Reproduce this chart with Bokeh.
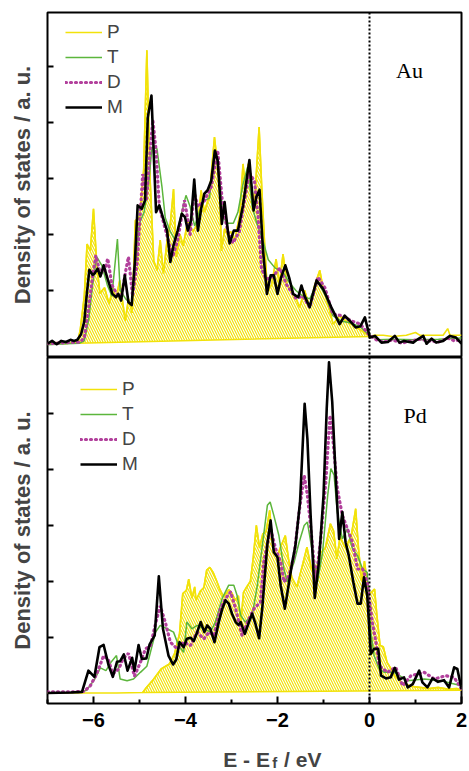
from bokeh.plotting import figure
from bokeh.layouts import column
from bokeh.models import (Range1d, FixedTicker, Span, Label, Legend, LegendItem,
                          CustomJSTickFormatter)
from bokeh.embed import file_html
from bokeh.resources import INLINE

# ---------------- data: Au panel ----------------
au_p_x = [-7.0, -6.8, -6.6, -6.45, -6.35, -6.29, -6.2, -6.14, -6.07, -6.0, -5.93, -5.86, -5.76, -5.66,
          -5.58, -5.51, -5.43, -5.31, -5.24, -5.16, -5.09, -5.0, -4.91, -4.84, -4.77, -4.69, -4.62,
          -4.55, -4.48, -4.40, -4.33, -4.26, -4.2, -4.12, -4.05, -3.95, -3.84, -3.73, -3.66, -3.59,
          -3.48, -3.37, -3.26, -3.22, -3.15, -3.08, -3.01, -2.93, -2.82, -2.75, -2.69, -2.64, -2.57,
          -2.50, -2.40, -2.34, -2.28, -2.22, -2.13, -2.03, -1.96, -1.88, -1.79, -1.70, -1.59, -1.52,
          -1.41, -1.30, -1.19, -1.08, -1.0, -0.9, -0.79, -0.65, -0.5, -0.35, -0.2, 0.0, 0.1, 0.3,
          0.5, 0.8, 1.0, 1.1, 1.4, 1.6, 1.7, 1.75, 2.0]
au_p_y = [0.05, 0.07, 0.05, 0.08, 0.06, 0.29, 0.9, 1.83, 1.71, 2.46, 1.48, 0.95, 1.05, 0.76,
          1.05, 0.85, 1.18, 0.46, 0.85, 0.6, 2.25, 2.31, 3.14, 5.29, 3.0, 1.53, 1.36,
          1.9, 1.3, 1.9, 2.2, 2.81, 1.6, 2.0, 1.8, 2.25, 2.05, 2.2, 2.79, 2.4,
          2.7, 3.74, 2.9, 1.71, 2.1, 2.0, 2.05, 1.9, 2.35, 3.26, 2.8, 3.26, 2.85,
          2.55, 3.92, 2.8, 1.83, 0.98, 1.1, 1.56, 1.1, 1.65, 1.1, 1.0, 0.85, 0.7,
          1.0, 0.7, 1.1, 1.36, 1.0, 0.75, 0.40, 0.55, 0.45, 0.38, 0.3, 0.18, 0.2, 0.2,
          0.18, 0.2, 0.25, 0.2, 0.2, 0.2, 0.32, 0.2, 0.2]

au_t_x = [-7.0, -6.6, -6.3, -6.2, -6.1, -6.02, -5.93, -5.82, -5.7, -5.6, -5.48, -5.42, -5.3, -5.17,
          -5.08, -5.0, -4.9, -4.79, -4.73, -4.62, -4.51, -4.44, -4.33, -4.22, -4.11, -3.99, -3.9,
          -3.8, -3.7, -3.6, -3.48, -3.37, -3.28, -3.18, -3.08, -2.96, -2.86, -2.75, -2.65, -2.55,
          -2.45, -2.32, -2.2, -2.05, -1.9, -1.75, -1.6, -1.45, -1.3, -1.12, -0.95, -0.8, -0.6,
          -0.4, -0.2, 0.0, 0.2, 0.5, 1.0, 1.5, 2.0]
au_t_y = [0.03, 0.05, 0.06, 0.1, 0.5, 1.1, 1.6, 1.45, 1.1, 0.9, 1.92, 1.0, 0.85, 0.75,
          1.5, 2.2, 2.4, 3.0, 3.56, 3.53, 2.84, 2.3, 2.05, 1.9, 2.3, 2.7, 2.5,
          2.15, 2.4, 2.6, 2.65, 3.5, 3.2, 2.3, 2.2, 2.2, 2.4, 2.9, 3.2, 2.5,
          2.2, 1.9, 1.55, 1.4, 1.35, 1.15, 1.0, 0.9, 0.85, 1.15, 0.9, 0.55, 0.45,
          0.42, 0.35, 0.2, 0.12, 0.13, 0.12, 0.13, 0.15]

au_d_x = [-7.0, -6.6, -6.3, -6.2, -6.12, -6.02, -5.95, -5.85, -5.76, -5.69, -5.6, -5.5, -5.4, -5.3,
          -5.24, -5.15, -5.05, -4.93, -4.85, -4.76, -4.71, -4.64, -4.57, -4.44, -4.28, -4.17, -4.02,
          -3.9, -3.81, -3.73, -3.59, -3.44, -3.30, -3.19, -3.08, -2.97, -2.83, -2.72, -2.61, -2.5,
          -2.42, -2.35, -2.25, -2.1, -1.95, -1.8, -1.6, -1.45, -1.3, -1.12, -0.97, -0.8, -0.6,
          -0.4, -0.2, 0.0, 0.15, 0.3, 0.5, 0.7, 0.9, 1.1, 1.3, 1.5, 1.7, 1.85, 2.0]
au_d_y = [0.05, 0.07, 0.08, 0.15, 0.6, 1.25, 1.62, 1.3, 1.35, 1.57, 1.1, 0.95, 0.85, 1.35,
          1.6, 0.9, 1.5, 3.08, 2.6, 3.6, 4.04, 3.5, 2.5, 2.1, 1.6, 1.9, 2.61,
          2.0, 2.75, 2.5, 2.6, 2.85, 3.5, 2.5, 2.05, 1.85, 2.05, 2.6, 3.1, 2.95,
          2.3, 1.4, 1.2, 1.25, 1.4, 1.1, 0.86, 0.9, 0.7, 1.24, 1.05, 0.58, 0.55,
          0.46, 0.4, 0.2, 0.12, 0.08, 0.12, 0.06, 0.1, 0.13, 0.1, 0.08, 0.15, 0.1, 0.12]

au_m_x = [-7.0, -6.9, -6.8, -6.7, -6.6, -6.5, -6.42, -6.35, -6.27, -6.2, -6.15, -6.09, -6.02, -5.98,
          -5.91, -5.85, -5.78, -5.69, -5.59, -5.51, -5.46, -5.40, -5.32, -5.24, -5.17, -5.10, -5.04,
          -4.95, -4.88, -4.82, -4.74, -4.64, -4.57, -4.47, -4.40, -4.33, -4.26, -4.17, -4.08, -4.01,
          -3.95, -3.88, -3.81, -3.73, -3.66, -3.59, -3.52, -3.44, -3.36, -3.30, -3.21, -3.15, -3.08,
          -3.04, -2.95, -2.86, -2.75, -2.68, -2.61, -2.52, -2.46, -2.39, -2.32, -2.23, -2.15, -2.08,
          -2.0, -1.92, -1.83, -1.74, -1.66, -1.55, -1.48, -1.41, -1.30, -1.23, -1.15, -1.01, -0.83,
          -0.65, -0.54, -0.43, -0.30, -0.20, -0.10, 0.01, 0.12, 0.26, 0.4, 0.55, 0.65, 0.75, 0.95,
          1.03, 1.17, 1.24, 1.35, 1.45, 1.6, 1.75, 1.88, 2.0]
au_m_y = [0.05, 0.1, 0.04, 0.1, 0.08, 0.12, 0.1, 0.12, 0.22, 0.45, 0.9, 1.37, 1.28, 1.30,
          1.39, 1.25, 1.45, 1.2, 0.94, 0.88, 0.94, 0.82, 1.27, 0.79, 0.74, 1.52, 2.52,
          2.46, 2.61, 4.09, 4.48, 2.40, 2.52, 2.25, 2.07, 1.51, 1.81, 2.07, 2.37, 2.31,
          2.07, 2.25, 2.98, 2.07, 2.46, 2.73, 2.79, 2.96, 3.5, 3.32, 2.19, 2.58, 2.07,
          1.84, 2.07, 2.07, 2.52, 2.93, 3.33, 2.43, 2.67, 2.80, 1.77, 0.94, 1.27, 1.27,
          0.94, 1.24, 1.45, 1.21, 0.94, 0.88, 1.09, 0.9, 0.70, 0.94, 1.18, 1.03, 0.70,
          0.40, 0.55, 0.46, 0.34, 0.36, 0.52, 0.16, 0.19, 0.07, 0.08, 0.19, 0.07, 0.1, 0.07,
          0.12, 0.19, 0.05, 0.14, 0.07, 0.1, 0.19, 0.16, 0.05]

# ---------------- data: Pd panel ----------------
pd_p_x = [-7.0, -6.0, -5.5, -4.93, -4.85, -4.71, -4.53, -4.35, -4.24, -4.13, -4.06, -3.98, -3.93,
          -3.86, -3.80, -3.77, -3.68, -3.60, -3.54, -3.47, -3.40, -3.32, -3.25, -3.17, -3.06, -2.99,
          -2.92, -2.85, -2.80, -2.74, -2.67, -2.59, -2.53, -2.46, -2.39, -2.32, -2.25, -2.17, -2.10,
          -2.01, -1.94, -1.83, -1.76, -1.69, -1.58, -1.47, -1.36, -1.27, -1.18, -1.07, -0.96, -0.85,
          -0.78, -0.71, -0.64, -0.53, -0.40, -0.30, -0.24, -0.17, -0.11, -0.06, 0.0, 0.11, 0.16,
          0.23, 0.30, 0.38, 0.45, 0.56, 0.70, 0.9, 1.1, 1.3, 1.5, 1.7, 1.9, 2.0]
pd_p_y = [0.0, 0.0, 0.0, 0.01, 0.1, 0.23, 0.43, 0.52, 0.70, 1.06, 1.78, 1.84, 2.04,
          1.7, 1.9, 1.66, 1.82, 1.89, 2.2, 2.25, 2.16, 2.0, 1.85, 1.72, 1.85, 1.79,
          1.66, 1.74, 1.24, 1.8, 1.9, 2.0, 2.4, 3.0, 2.6, 2.85, 2.89, 3.27, 2.6,
          2.43, 2.6, 2.82, 2.4, 2.07, 1.9, 2.25, 2.61, 2.25, 2.14, 2.5, 2.6, 3.03,
          2.9, 2.4, 2.8, 2.6, 2.8, 3.30, 2.6, 2.0, 2.36, 2.05, 1.77, 1.86, 1.4,
          0.85, 0.83, 0.55, 0.46, 0.3, 0.19, 0.12, 0.1, 0.08, 0.1, 0.07, 0.08, 0.05]

pd_t_x = [-7.0, -6.3, -6.15, -5.98, -5.85, -5.73, -5.62, -5.5, -5.42, -5.27, -5.13, -4.98, -4.84,
          -4.65, -4.55, -4.40, -4.26, -4.15, -4.04, -3.97, -3.86, -3.75, -3.60, -3.46, -3.35, -3.20,
          -3.06, -2.95, -2.88, -2.80, -2.70, -2.55, -2.44, -2.33, -2.22, -2.16, -2.08, -1.97, -1.86,
          -1.79, -1.64, -1.53, -1.42, -1.35, -1.24, -1.13, -1.02, -0.91, -0.84, -0.77, -0.70, -0.59,
          -0.48, -0.37, -0.26, -0.15, -0.05, 0.03, 0.10, 0.21, 0.32, 0.54, 0.83, 1.19, 1.55, 2.0]
pd_t_y = [0.0, 0.01, 0.05, 0.24, 0.45, 0.40, 0.55, 0.67, 0.25, 0.22, 0.25, 0.37, 0.48,
          1.09, 1.21, 1.15, 1.09, 0.85, 0.73, 1.27, 1.15, 1.21, 1.15, 1.09, 1.27, 1.7,
          1.93, 1.93, 1.75, 1.39, 1.27, 1.39, 1.92, 2.64, 3.36, 3.42, 3.18, 2.82, 2.22,
          1.99, 2.34, 2.70, 3.0, 3.06, 2.52, 1.99, 2.52, 3.53, 4.02, 3.90, 3.24, 2.76,
          2.94, 2.58, 2.46, 2.22, 2.16, 1.09, 0.67, 0.43, 0.37, 0.37, 0.22, 0.25, 0.22, 0.13]

pd_d_x = [-7.0, -6.5, -6.2, -6.07, -5.93, -5.78, -5.67, -5.58, -5.45, -5.36, -5.24, -5.11, -4.98,
          -4.87, -4.76, -4.66, -4.55, -4.44, -4.33, -4.18, -4.04, -3.89, -3.75, -3.60, -3.49, -3.38,
          -3.24, -3.13, -3.02, -2.91, -2.77, -2.62, -2.51, -2.37, -2.30, -2.15, -2.04, -1.93, -1.86,
          -1.75, -1.64, -1.53, -1.42, -1.35, -1.26, -1.17, -1.06, -0.95, -0.86, -0.79, -0.70, -0.59,
          -0.48, -0.37, -0.26, -0.15, -0.05, 0.06, 0.14, 0.21, 0.39, 0.57, 0.72, 0.90, 1.19, 1.41,
          1.66, 1.84, 2.0]
pd_d_y = [0.02, 0.02, 0.03, 0.13, 0.34, 0.67, 0.58, 0.34, 0.43, 0.61, 0.71, 0.30, 0.55,
          0.79, 0.85, 1.21, 1.56, 1.27, 0.91, 0.79, 0.91, 0.85, 1.09, 0.97, 1.09, 1.03,
          1.51, 1.69, 1.81, 1.51, 1.03, 1.33, 1.51, 1.63, 2.34, 2.94, 2.58, 2.34, 1.99,
          2.10, 2.46, 3.24, 3.90, 3.54, 2.82, 1.99, 2.76, 3.78, 4.97, 4.49, 3.66, 3.18,
          2.94, 2.70, 2.22, 2.22, 1.99, 1.27, 0.91, 0.49, 0.37, 0.46, 0.13, 0.31, 0.37, 0.25,
          0.31, 0.28, 0.07]

pd_m_x = [-7.0, -6.5, -6.25, -6.11, -5.98, -5.87, -5.78, -5.67, -5.58, -5.49, -5.42, -5.34, -5.26,
          -5.16, -5.11, -5.02, -4.95, -4.85, -4.78, -4.67, -4.58, -4.49, -4.37, -4.27, -4.2, -4.13,
          -4.04, -3.97, -3.89, -3.82, -3.75, -3.67, -3.59, -3.53, -3.46, -3.37, -3.28, -3.20, -3.13,
          -3.06, -2.99, -2.91, -2.85, -2.80, -2.71, -2.62, -2.55, -2.48, -2.40, -2.33, -2.22, -2.15,
          -2.08, -2.0, -1.93, -1.84, -1.77, -1.68, -1.61, -1.51, -1.41, -1.35, -1.28, -1.19, -1.10,
          -1.00, -0.93, -0.88, -0.81, -0.73, -0.66, -0.59, -0.52, -0.45, -0.35, -0.26, -0.19, -0.12,
          -0.05, 0.03, 0.10, 0.19, 0.25, 0.36, 0.46, 0.55, 0.64, 0.75, 0.83, 0.94, 1.08, 1.15, 1.26,
          1.37, 1.49, 1.62, 1.73, 1.84, 1.91, 2.0]
pd_m_y = [0.0, 0.01, 0.02, 0.40, 0.29, 0.82, 0.86, 0.49, 0.29, 0.56, 0.57, 0.69, 0.40,
          0.63, 0.40, 0.86, 0.61, 0.62, 0.87, 1.03, 2.09, 1.15, 0.67, 0.51, 0.6, 0.91,
          0.82, 0.97, 0.99, 0.93, 1.08, 1.27, 1.09, 1.21, 1.15, 0.91, 1.26, 1.51, 1.66,
          1.60, 1.42, 1.27, 1.22, 1.27, 1.06, 1.27, 1.42, 1.24, 0.98, 1.53, 2.67, 3.09,
          2.52, 2.43, 1.92, 1.51, 1.87, 2.34, 2.64, 3.42, 5.18, 4.55, 3.18, 1.70, 2.34,
          3.53, 5.09, 5.92, 5.21, 3.78, 2.76, 3.24, 2.70, 2.46, 1.98, 1.60, 1.60, 2.07,
          1.75, 0.70, 0.79, 0.79, 0.31, 0.26, 0.28, 0.45, 0.24, 0.28, 0.10, 0.16, 0.40, 0.19, 0.10,
          0.26, 0.20, 0.23, 0.10, 0.46, 0.43, 0.07]

x_major_ticks = [-6, -4, -2, 0, 2]
x_minor_ticks = [-7, -5, -3, -1, 1]
y_ticks = [1, 2, 3, 4, 5]
series_names = ["P", "T", "D", "M"]
panel_names = ["Au", "Pd"]
au_fill_range = (-6.35, 0.0)
pd_fill_range = (-4.93, 2.0)

# ---------------- styles ----------------
YELLOW = "#f2e20a"
GREEN = "#5cb63c"
MAGENTA = "#b2409c"
BLACK = "#000000"
SANS = "Liberation Sans"
SERIF = "Liberation Serif"
W = 469


def make_panel(height, y_rng, top_border, bottom_border, with_xaxis):
    p = figure(width=W, height=height, output_backend="svg", toolbar_location=None,
               title=None,
               x_range=Range1d(-7, 2), y_range=Range1d(*y_rng),
               x_axis_location="below" if with_xaxis else None,
               min_border_left=47, min_border_right=8,
               min_border_top=top_border, min_border_bottom=bottom_border)
    p.grid.visible = False
    p.outline_line_color = "black"
    p.outline_line_width = 2
    p.outline_line_alpha = 1
    p.background_fill_color = "white"
    p.border_fill_color = "white"
    ya = p.yaxis[0]
    ya.ticker = FixedTicker(ticks=y_ticks)
    ya.formatter = CustomJSTickFormatter(code="return ''")
    ya.major_label_standoff = 0
    ya.major_tick_in = 6
    ya.major_tick_out = 0
    ya.major_tick_line_width = 2
    ya.minor_tick_line_color = None
    ya.axis_line_color = None
    ya.axis_label = "Density of states / a. u."
    ya.axis_label_text_font = SANS
    ya.axis_label_text_font_style = "bold"
    ya.axis_label_text_font_size = "22px"
    ya.axis_label_standoff = 13
    if with_xaxis:
        xa = p.xaxis[0]
        xa.ticker = FixedTicker(ticks=x_major_ticks, minor_ticks=x_minor_ticks)
        xa.major_tick_in = 7
        xa.major_tick_out = 0
        xa.minor_tick_in = 4
        xa.minor_tick_out = 0
        xa.major_tick_line_width = 2
        xa.minor_tick_line_width = 2
        xa.axis_line_color = None
        xa.major_label_text_font = SANS
        xa.major_label_text_font_style = "bold"
        xa.major_label_text_font_size = "20px"
        xa.major_label_text_color = "black"
        xa.major_label_standoff = 9
    return p


def fill_part(xs, ys, rng):
    fx = [x for x in xs if rng[0] <= x <= rng[1]]
    fy = [y for x, y in zip(xs, ys) if rng[0] <= x <= rng[1]]
    return fx, fy


def draw(p, px, py, tx, ty, dx, dy, mx, my, fill_rng, name, name_xy, leg_loc):
    fx, fy = fill_part(px, py, fill_rng)
    p.patch(fx, fy, fill_color=None, hatch_pattern="\\", hatch_color=YELLOW,
            hatch_scale=5, hatch_weight=1.2, line_color=YELLOW, line_width=1.5)
    rp = p.line(px, py, line_color=YELLOW, line_width=1.6)
    rt = p.line(tx, ty, line_color=GREEN, line_width=1.5)
    rd = p.line(dx, dy, line_color=MAGENTA, line_width=3.2, line_dash="1 4", line_cap="round")
    rm = p.line(mx, my, line_color=BLACK, line_width=2.6, line_join="round")
    p.add_layout(Span(location=0, dimension="height", line_color="black",
                      line_width=2, line_dash="2 2"))
    p.add_layout(Label(x=name_xy[0], y=name_xy[1], text=name, text_font=SERIF,
                       text_font_size="22px", text_align="center", text_baseline="alphabetic",
                       text_color="black"))
    items = [LegendItem(label=n, renderers=[r]) for n, r in zip(series_names, [rp, rt, rd, rm])]
    leg = Legend(items=items, location=leg_loc, orientation="vertical",
                 glyph_width=37, glyph_height=22, label_standoff=5, spacing=3,
                 padding=0, margin=0, border_line_color=None, background_fill_alpha=0,
                 label_text_font=SANS, label_text_font_size="19px", label_height=22)
    p.add_layout(leg, "center")


# top panel: frame 12..357 px; bottom panel: frame 357..703 px
p1 = make_panel(357, (-0.196, 5.964), 12, 0, False)
draw(p1, au_p_x, au_p_y, au_t_x, au_t_y, au_d_x, au_d_y, au_m_x, au_m_y,
     au_fill_range, panel_names[0], (0.87, 4.93), (18, 239))

p2 = make_panel(380, (-0.188, 6.007), 0, 34, True)
draw(p2, pd_p_x, pd_p_y, pd_t_x, pd_t_y, pd_d_x, pd_d_y, pd_m_x, pd_m_y,
     pd_fill_range, panel_names[1], (0.99, 4.97), (33, 228))

# x-axis title strip with subscript f
TH = 33
p3 = figure(width=W, height=TH, output_backend="svg", toolbar_location=None, title=None,
            x_range=Range1d(0, W), y_range=Range1d(0, TH),
            x_axis_location=None, y_axis_location=None,
            min_border=0, outline_line_color=None)
p3.grid.visible = False
p3.add_layout(Label(x=252, y=11, text="E - E", text_font=SANS, text_font_style="bold",
                    text_font_size="21px", text_align="right", text_baseline="alphabetic"))
p3.add_layout(Label(x=254.5, y=8.5, text="f", text_font=SANS, text_font_style="bold",
                    text_font_size="15px", text_align="left", text_baseline="alphabetic"))
p3.add_layout(Label(x=268, y=11, text="/ eV", text_font=SANS, text_font_style="bold",
                    text_font_size="21px", text_align="left", text_baseline="alphabetic"))

layout = column(p1, p2, p3, spacing=0)
open("out.html", "w").write(file_html(layout, INLINE))
